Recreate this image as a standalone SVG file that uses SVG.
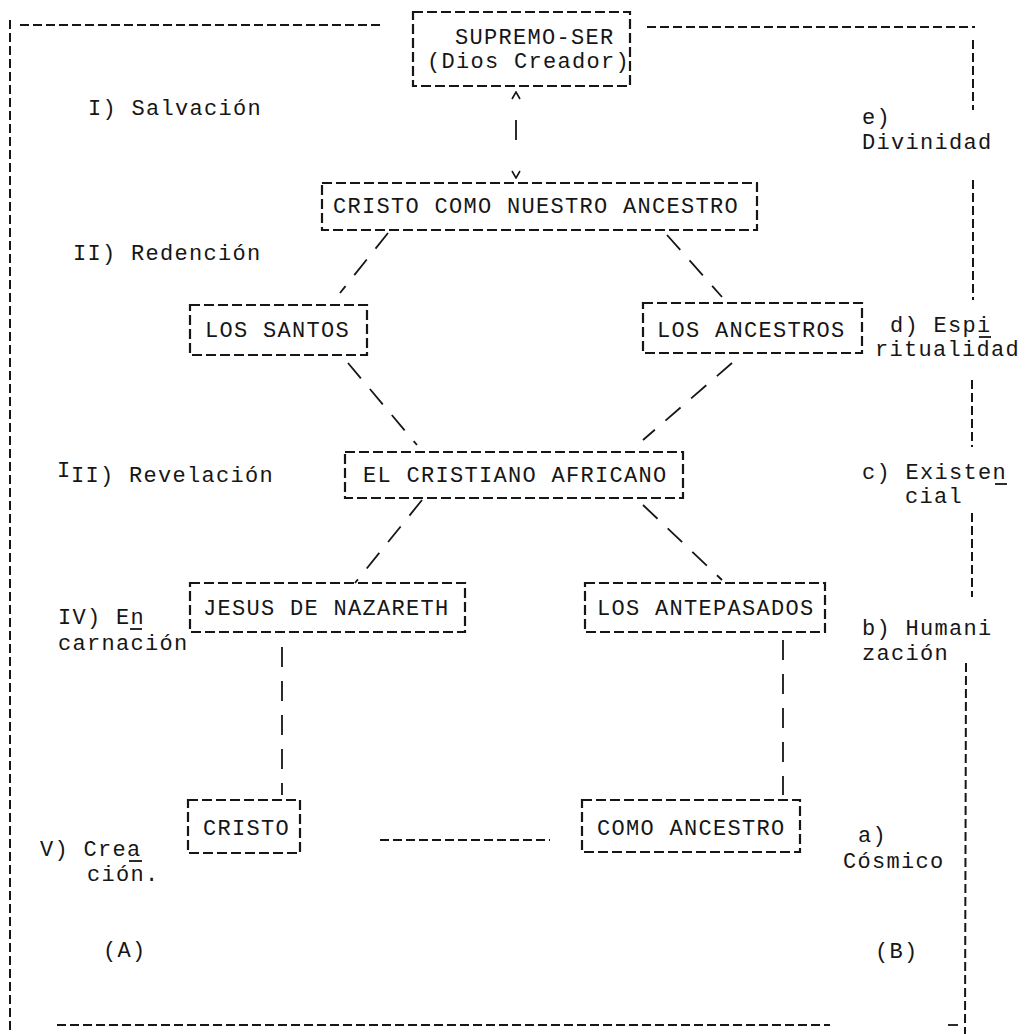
<svg xmlns="http://www.w3.org/2000/svg" width="1029" height="1034" viewBox="0 0 1029 1034">
<style>
  .bg{fill:#ffffff}
  .box{fill:none;stroke:#161616;stroke-width:2.2;stroke-dasharray:10 4}
  .frame{fill:none;stroke:#161616;stroke-width:2;stroke-dasharray:9 4}
  .conn{fill:none;stroke:#161616;stroke-width:1.8;stroke-dasharray:20 14}
  .mark{stroke:#161616;stroke-width:1.8}
  text{font-family:"Liberation Mono","DejaVu Sans Mono",monospace;font-size:22px;letter-spacing:1.3px;fill:#161616}
</style>
<defs>
  <marker id="ah" viewBox="0 0 10 10" refX="9" refY="5" markerWidth="10" markerHeight="10" orient="auto-start-reverse" markerUnits="userSpaceOnUse">
    <path d="M2,1 L9,5 L2,9" fill="none" stroke="#161616" stroke-width="1.6"/>
  </marker>
</defs>
<rect class="bg" x="0" y="0" width="1029" height="1034"/>

<g id="frame">
  <line class="frame" x1="10" y1="20" x2="10" y2="1034"/>
  <line class="frame" x1="20" y1="25" x2="380" y2="25"/>
  <line class="frame" x1="647" y1="27" x2="975" y2="27"/>
  <line class="frame" x1="973" y1="40" x2="973" y2="110"/>
  <line class="frame" x1="973" y1="180" x2="973" y2="300"/>
  <line class="frame" x1="972" y1="380" x2="972" y2="447"/>
  <line class="frame" x1="972" y1="513" x2="972" y2="597"/>
  <line class="frame" x1="966" y1="663" x2="965" y2="1034"/>
  <line class="frame" x1="57" y1="1025" x2="830" y2="1025"/>
  <line class="mark" x1="948" y1="1025" x2="958" y2="1025"/>
</g>

<g id="connectors">
  <line class="mark" x1="516" y1="92" x2="516" y2="178" stroke-dasharray="0 28 20 80" marker-start="url(#ah)" marker-end="url(#ah)"/>
  <line class="conn" x1="388" y1="233" x2="340" y2="293"/>
  <line class="conn" x1="667" y1="235" x2="722" y2="297"/>
  <line class="conn" x1="348" y1="363" x2="417" y2="445"/>
  <line class="conn" x1="732" y1="363" x2="643" y2="440"/>
  <line class="conn" x1="422" y1="500" x2="355" y2="583"/>
  <line class="conn" x1="643" y1="505" x2="722" y2="580"/>
  <line class="conn" x1="282" y1="647" x2="282" y2="795"/>
  <line class="conn" x1="783" y1="640" x2="783" y2="795"/>
  <line class="frame" x1="380" y1="840" x2="550" y2="840"/>
</g>

<g id="supremo-ser">
  <rect class="box" x="413" y="12" width="217" height="74"/>
  <text x="455" y="44">SUPREMO-SER</text>
  <text x="427" y="68">(Dios Creador)</text>
</g>
<g id="cristo-nuestro-ancestro">
  <rect class="box" x="322" y="183" width="435" height="47"/>
  <text x="333" y="213">CRISTO COMO NUESTRO ANCESTRO</text>
</g>
<g id="los-santos">
  <rect class="box" x="190" y="305" width="177" height="50"/>
  <text x="205" y="337">LOS SANTOS</text>
</g>
<g id="los-ancestros">
  <rect class="box" x="643" y="303" width="219" height="50"/>
  <text x="657" y="337">LOS ANCESTROS</text>
</g>
<g id="cristiano-africano">
  <rect class="box" x="345" y="452" width="338" height="46"/>
  <text x="363" y="482">EL CRISTIANO AFRICANO</text>
</g>
<g id="jesus">
  <rect class="box" x="190" y="583" width="275" height="49"/>
  <text x="203" y="615">JESUS DE NAZARETH</text>
</g>
<g id="antepasados">
  <rect class="box" x="585" y="583" width="240" height="49"/>
  <text x="597" y="615">LOS ANTEPASADOS</text>
</g>
<g id="cristo">
  <rect class="box" x="188" y="800" width="112" height="53"/>
  <text x="203" y="835">CRISTO</text>
</g>
<g id="como-ancestro">
  <rect class="box" x="582" y="800" width="218" height="52"/>
  <text x="597" y="835">COMO ANCESTRO</text>
</g>

<g id="labels-left">
  <text x="88" y="115">I) Salvación</text>
  <text x="73" y="260">II) Redención</text>
  <text x="57" y="477">I<tspan x="71" dy="5">II) Revelación</tspan></text>
  <text x="58" y="624">IV) En</text>
  <line class="mark" x1="130" y1="629" x2="142" y2="629"/>
  <text x="58" y="650">carnación</text>
  <text x="40" y="856">V) Crea</text>
  <line class="mark" x1="129" y1="861" x2="142" y2="861"/>
  <text x="87" y="881">ción.</text>
  <text x="103" y="957">(A)</text>
</g>

<g id="labels-right">
  <text x="862" y="124">e)</text>
  <text x="862" y="149">Divinidad</text>
  <text x="890" y="332">d) Espi</text>
  <line class="mark" x1="979" y1="337" x2="991" y2="337"/>
  <text x="875" y="356">ritualidad</text>
  <text x="862" y="479">c) Existen</text>
  <line class="mark" x1="995" y1="484" x2="1007" y2="484"/>
  <text x="905" y="503">cial</text>
  <text x="862" y="635">b) Humani</text>
  <text x="862" y="660">zación</text>
  <text x="858" y="842">a)</text>
  <text x="843" y="868">Cósmico</text>
  <text x="875" y="958">(B)</text>
</g>
</svg>
